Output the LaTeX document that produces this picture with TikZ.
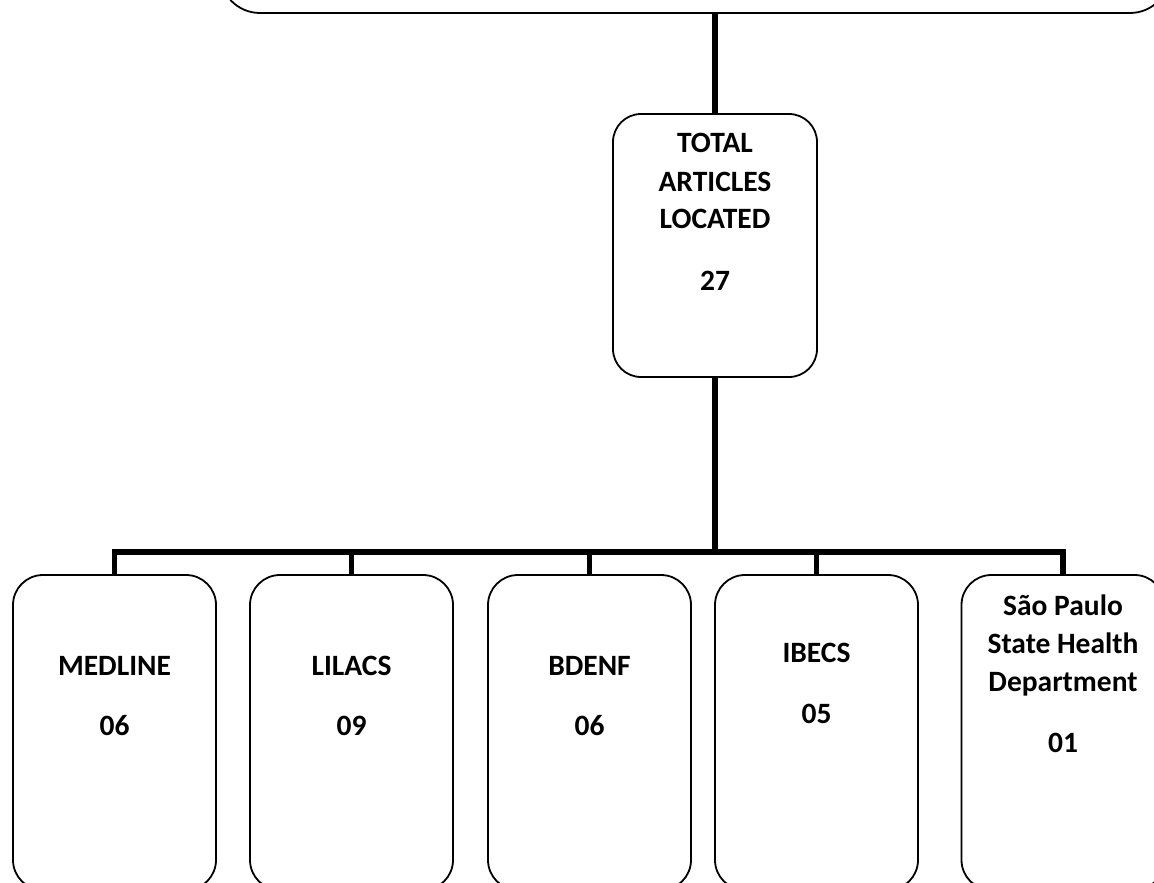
\documentclass[tikz,border=0pt]{standalone}
\usepackage{fontspec}
\setmainfont{Carlito}
\begin{document}
\begin{tikzpicture}[x=1pt,y=-1pt,
  box/.style={draw=black,line width=1.8pt,rounded corners=30pt,inner sep=0pt,fill=white,minimum width=203pt,minimum height=315pt},
  conn/.style={line width=5.5pt,line join=miter},
  lbl/.style={anchor=base,inner sep=0pt,font=\bfseries\fontsize{29.5}{35}\selectfont}]
\useasboundingbox (0,0) rectangle (1154,883);
\clip (0,0) rectangle (1154,883);
% boxes
\node[box,minimum width=950pt,minimum height=160pt,rounded corners=40pt] (src) at (695,-67) {};
\node[box,minimum width=204pt,minimum height=263pt,rounded corners=28pt] (total) at (715,245.5) {};
\node[box] (b1) at (114.5,732.5) {};
\node[box] (b2) at (351.5,732.5) {};
\node[box] (b3) at (589.5,732.5) {};
\node[box] (b4) at (816.5,732.5) {};
\node[box] (b5) at (1063,732.5) {};
% connectors
\coordinate (bus) at (715,552);
\draw[conn] (total.north |- src.south) -- (total.north);
\draw[conn] (total.south) -- (bus);
\foreach \b in {b1,b2,b3,b4,b5} \draw[conn] (bus) -| (\b.north);
% labels
\node[lbl] (t1) at (715,152) {TOTAL};
\node[lbl] (t2) at (715,191) {ARTICLES};
\node[lbl] (t3) at (715,228) {LOCATED};
\node[lbl] (t4) at (715,290) {27};
\node[lbl] (m1) at (114.5,675) {MEDLINE};
\node[lbl] (m2) at (114.5,735) {06};
\node[lbl] (l1) at (351.5,675) {LILACS};
\node[lbl] (l2) at (351.5,735) {09};
\node[lbl] (d1) at (589.5,675) {BDENF};
\node[lbl] (d2) at (589.5,735) {06};
\node[lbl] (i1) at (816.5,662) {IBECS};
\node[lbl] (i2) at (816.5,723) {05};
\node[lbl] (s1) at (1063,615) {São Paulo};
\node[lbl] (s2) at (1063,653) {State Health};
\node[lbl] (s3) at (1063,691) {Department};
\node[lbl] (s4) at (1063,752) {01};
\end{tikzpicture}
\end{document}
